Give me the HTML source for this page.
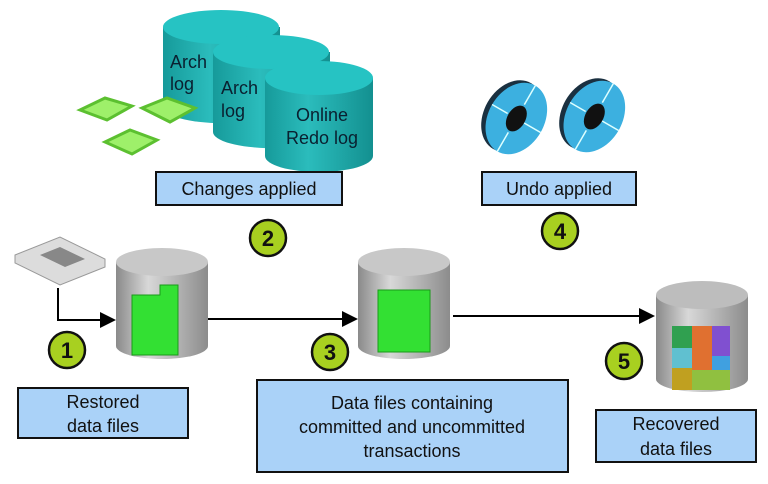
<!DOCTYPE html>
<html><head><style>body{margin:0;background:#fff}svg{display:block}</style></head><body>
<svg width="768" height="484" viewBox="0 0 768 484" xmlns="http://www.w3.org/2000/svg" font-family="Liberation Sans, sans-serif">
<defs>
<linearGradient id="g" x1="0" x2="1"><stop offset="0" stop-color="#8a8a8a"/><stop offset=".35" stop-color="#d8d8d8"/><stop offset="1" stop-color="#8c8c8c"/></linearGradient>
<linearGradient id="t" x1="0" x2="1"><stop offset="0" stop-color="#169a9a"/><stop offset=".4" stop-color="#2bbcbc"/><stop offset="1" stop-color="#139090"/></linearGradient>
<marker id="a" markerWidth="8" markerHeight="8" refX="7" refY="4" orient="auto"><path d="M0,0 L8,4 L0,8z" fill="#000"/></marker>
</defs>
<g stroke="none">
<path d="M163,27 v80 a58,16 0 0 0 117,0 v-80z" fill="url(#t)"/><ellipse cx="221" cy="27" rx="58" ry="17" fill="#26c3c3"/>
<path d="M213,52 v80 a58,16 0 0 0 117,0 v-80z" fill="url(#t)"/><ellipse cx="271" cy="52" rx="58" ry="17" fill="#26c3c3"/>
<path d="M265,78 v78 a54,16 0 0 0 108,0 v-78z" fill="url(#t)"/><ellipse cx="319" cy="78" rx="54" ry="17" fill="#26c3c3"/>
</g>
<g font-size="18" fill="#0a2030">
<text x="170" y="68">Arch</text><text x="170" y="90">log</text>
<text x="221" y="94">Arch</text><text x="221" y="117">log</text>
<text x="322" y="121" text-anchor="middle">Online</text><text x="322" y="144" text-anchor="middle">Redo log</text>
</g>
<g fill="#9ef06a" stroke="#5cc030" stroke-width="3">
<path d="M80,110 l25,-12 l27,8 l-25,14z"/><path d="M142,108 l25,-10 l28,10 l-25,14z"/><path d="M105,142 l25,-12 l27,10 l-25,14z"/>
</g>
<g fill="#aad2f8" stroke="#111" stroke-width="2">
<rect x="156" y="172" width="186" height="33"/>
<rect x="482" y="172" width="154" height="33"/>
<rect x="18" y="388" width="170" height="50"/>
<rect x="257" y="380" width="311" height="92"/>
<rect x="596" y="410" width="160" height="52"/>
</g>
<g font-size="18" fill="#111" text-anchor="middle">
<text x="249" y="195">Changes applied</text>
<text x="559" y="195">Undo applied</text>
<text x="103" y="408">Restored</text><text x="103" y="432">data files</text>
<text x="412" y="409">Data files containing</text><text x="412" y="433">committed and uncommitted</text><text x="412" y="457">transactions</text>
<text x="676" y="430">Recovered</text><text x="676" y="455">data files</text>
</g>
<g fill="#a8d020" stroke="#111" stroke-width="2.5">
<circle cx="268" cy="238" r="18"/><circle cx="560" cy="231" r="18"/><circle cx="67" cy="350" r="18"/><circle cx="330" cy="352" r="18"/><circle cx="624" cy="361" r="18"/>
</g>
<g font-size="22" font-weight="bold" fill="#111" text-anchor="middle">
<text x="268" y="246">2</text><text x="560" y="239">4</text><text x="67" y="358">1</text><text x="330" y="360">3</text><text x="624" y="369">5</text>
</g>
<path d="M15,255 l45,-18 l45,22 l0,8 l-45,18 l-45,-22z" fill="#dcdcdc" stroke="#999"/>
<path d="M40,255 l20,-8 l25,12 l-20,8z" fill="#888"/>
<path d="M58,288 V320 H114" fill="none" stroke="#000" stroke-width="2" marker-end="url(#a)"/>
<line x1="208" y1="319" x2="356" y2="319" stroke="#000" stroke-width="2" marker-end="url(#a)"/>
<line x1="453" y1="316" x2="653" y2="316" stroke="#000" stroke-width="2" marker-end="url(#a)"/>
<path d="M116,262 v84 a46,13 0 0 0 92,0 v-84z" fill="url(#g)"/><ellipse cx="162" cy="262" rx="46" ry="14" fill="#c8c8c8"/>
<path d="M132,295 h28 v-10 h18 v70 h-46z" fill="#33e033" stroke="#1a9a1a"/>
<path d="M358,262 v84 a46,13 0 0 0 92,0 v-84z" fill="url(#g)"/><ellipse cx="404" cy="262" rx="46" ry="14" fill="#c8c8c8"/>
<rect x="378" y="290" width="52" height="62" fill="#33e033" stroke="#1a9a1a"/>
<path d="M656,295 v84 a46,13 0 0 0 92,0 v-84z" fill="url(#g)"/><ellipse cx="702" cy="295" rx="46" ry="14" fill="#bdbdbd"/>
<rect x="672" y="326" width="20" height="22" fill="#30a050"/><rect x="692" y="326" width="20" height="44" fill="#e07030"/><rect x="712" y="326" width="18" height="30" fill="#8050d0"/>
<rect x="672" y="348" width="20" height="20" fill="#60c0d0"/><rect x="712" y="356" width="18" height="20" fill="#40a0e0"/>
<rect x="672" y="368" width="20" height="22" fill="#c0a020"/><rect x="692" y="370" width="38" height="20" fill="#90c040"/>
<g transform="translate(512,116) rotate(30)"><ellipse rx="28" ry="38" fill="#1a3040"/><ellipse cx="5" rx="28" ry="38" fill="#3cb0e0"/><ellipse cx="5" rx="9" ry="14" fill="#111"/><path d="M5,-38 V-16 M5,16 V38 M-23,0 H-5 M14,0 H33" stroke="#dff" stroke-width="1.5"/></g>
<g transform="translate(590,114) rotate(30)"><ellipse rx="28" ry="38" fill="#1a3040"/><ellipse cx="5" rx="28" ry="38" fill="#3cb0e0"/><ellipse cx="5" rx="9" ry="14" fill="#111"/><path d="M5,-38 V-16 M5,16 V38 M-23,0 H-5 M14,0 H33" stroke="#dff" stroke-width="1.5"/></g>
</svg>
</body></html>
